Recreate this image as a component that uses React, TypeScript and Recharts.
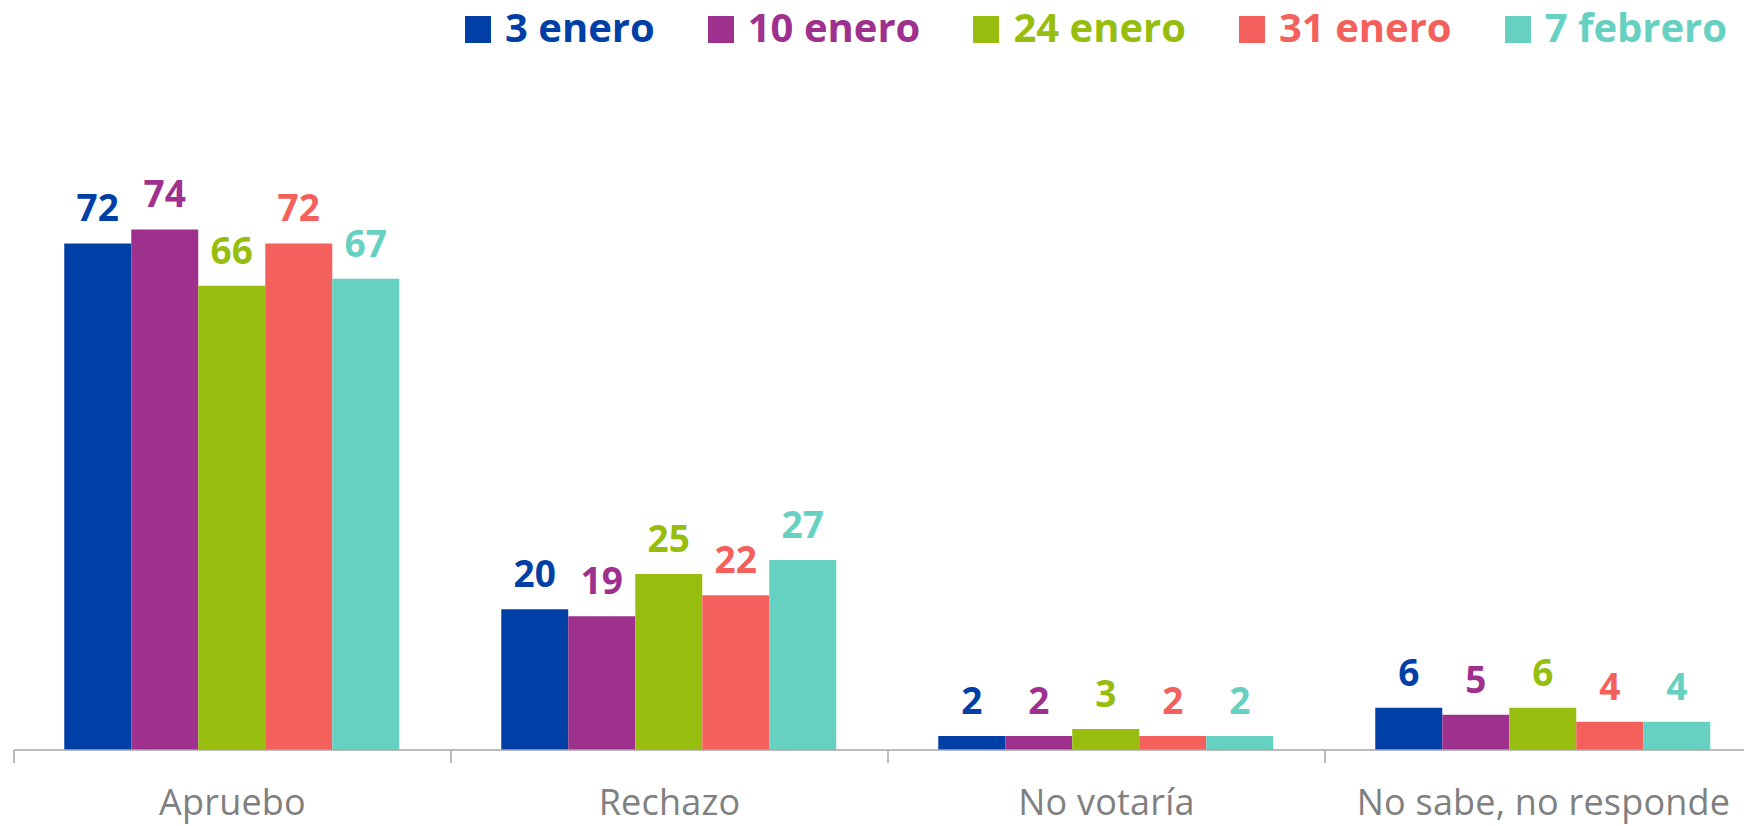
import React from 'react';
import { BarChart, Bar, XAxis, YAxis, Legend, LabelList } from 'recharts';

const categories = ['Apruebo', 'Rechazo', 'No votaría', 'No sabe, no responde'];
const seriesNames = ['3 enero', '10 enero', '24 enero', '31 enero', '7 febrero'];
const enero3 = [72, 20, 2, 6];
const enero10 = [74, 19, 2, 5];
const enero24 = [66, 25, 3, 6];
const enero31 = [72, 22, 2, 4];
const febrero7 = [67, 27, 2, 4];
const seriesValues = [enero3, enero10, enero24, enero31, febrero7];
const colors = ['#0040A6', '#9E318E', '#97BD0F', '#F4605C', '#66D1C1'];
const keys = ['s0', 's1', 's2', 's3', 's4'];

const data = categories.map((c, i) => {
  const row: Record<string, string | number> = { name: c };
  keys.forEach((k, j) => {
    row[k] = seriesValues[j][i];
  });
  return row;
});

const AXIS_COLOR = '#A6A6A6';
const FONT = '"Open Sans", sans-serif';

const CategoryTick = (props: any) => {
  const { x, y, payload, index, visibleTicksCount } = props;
  const off = payload && typeof payload.offset === 'number' && payload.offset > 0 ? payload.offset : 218.5;
  return (
    <g>
      <line x1={x - off} y1={y} x2={x - off} y2={y + 13} stroke={AXIS_COLOR} strokeWidth={1.5} />
      {index === (visibleTicksCount ?? 4) - 1 ? (
        <line x1={x + off} y1={y} x2={x + off} y2={y + 13} stroke={AXIS_COLOR} strokeWidth={1.5} />
      ) : null}
      <text
        x={x}
        y={y + 65}
        textAnchor="middle"
        fill="#808080"
        fontFamily={FONT}
        fontSize={36}
        letterSpacing={0.2}
      >
        {payload.value}
      </text>
    </g>
  );
};

const LegendContent = () => (
  <div style={{ display: 'flex', flexDirection: 'row', alignItems: 'center', fontFamily: FONT }}>
    {seriesNames.map((n, i) => (
      <div key={n} style={{ display: 'flex', alignItems: 'center', marginRight: 53 }}>
        <div style={{ width: 26, height: 27, background: colors[i], marginRight: 14, marginTop: 4 }} />
        <span style={{ color: colors[i], fontWeight: 700, fontSize: 40, lineHeight: '54px', whiteSpace: 'nowrap' }}>{n}</span>
      </div>
    ))}
  </div>
);

export default function App() {
  return (
    <div style={{ position: 'fixed', left: 0, top: 0, width: 1744, height: 826, overflow: 'hidden', background: '#fff' }}>
      <BarChart
        width={1780}
        height={826}
        data={data}
        margin={{ top: 190, right: 18, left: 14, bottom: 0 }}
        barCategoryGap="11.5%"
        barGap={0}
      >
        <XAxis
          dataKey="name"
          height={76}
          tickSize={0}
          tickMargin={0}
          tickLine={false}
          axisLine={{ stroke: AXIS_COLOR, strokeWidth: 1.5 }}
          tick={<CategoryTick />}
          interval={0}
        />
        <YAxis hide type="number" domain={[0, 79.6]} allowDataOverflow />
        <Legend
          layout="horizontal"
          verticalAlign="middle"
          align="center"
          content={<LegendContent />}
          wrapperStyle={{ top: 0, left: 465, width: 1300, height: 54 }}
        />
        {keys.map((k, i) => (
          <Bar key={k} dataKey={k} name={seriesNames[i]} fill={colors[i]} isAnimationActive={false}>
            <LabelList
              dataKey={k}
              position="top"
              offset={22}
              fill={colors[i]}
              fontFamily={FONT}
              fontWeight={700}
              fontSize={37}
            />
          </Bar>
        ))}
      </BarChart>
    </div>
  );
}
